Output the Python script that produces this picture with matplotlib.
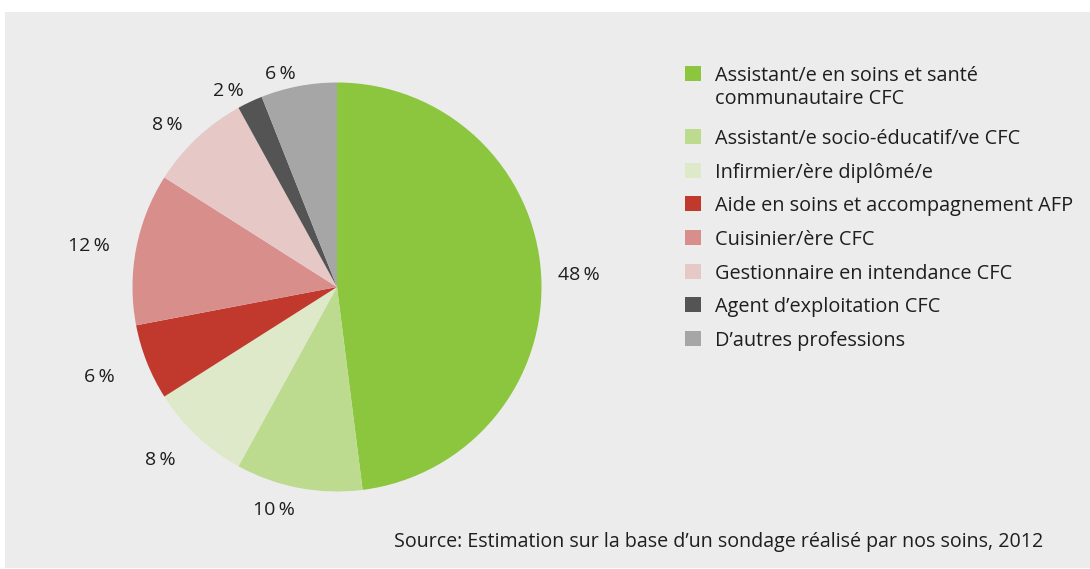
import matplotlib
matplotlib.use("Agg")
import matplotlib.pyplot as plt
import numpy as np
from matplotlib.patches import Rectangle

categories = [
    "Assistant/e en soins et santé\ncommunautaire CFC",
    "Assistant/e socio-éducatif/ve CFC",
    "Infirmier/ère diplômé/e",
    "Aide en soins et accompagnement AFP",
    "Cuisinier/ère CFC",
    "Gestionnaire en intendance CFC",
    "Agent d\u2019exploitation CFC",
    "D\u2019autres professions",
]
values = [48, 10, 8, 6, 12, 8, 2, 6]
colors = ["#8cc63e", "#bddb8f", "#dde9c9", "#c1392d",
          "#d88f8c", "#e6c9c7", "#545454", "#a6a6a6"]
source = "Source: Estimation sur la base d\u2019un sondage réalisé par nos soins, 2012"

# layout: radial distance of each percentage label (in pie radii)
label_radius = [1.085, 1.10, 1.15, 1.17, 1.13, 1.10, 1.07, 1.07]

W, H = 1090, 569
fig = plt.figure(figsize=(W / 100, H / 100), dpi=100)
fig.patch.set_facecolor("white")
FONT = ["Open Sans", "DejaVu Sans"]
TXT = "#1e1e1e"

# background panel
fig.patches.append(Rectangle((5 / W, 1 / H), (W - 5) / W, 556 / H,
                             transform=fig.transFigure, facecolor="#ececec",
                             edgecolor="none", zorder=-5))

# pie axes
cx, cy, r = 337, 287, 204.5
ax = fig.add_axes([(cx - r) / W, (H - cy - r) / H, 2 * r / W, 2 * r / H])
ax.set_zorder(1)
ax.set_facecolor("none")
wedges, _ = ax.pie(values, colors=colors, startangle=90, counterclock=False,
                   wedgeprops=dict(linewidth=0))
for w, v, lr in zip(wedges, values, label_radius):
    mid = np.deg2rad((w.theta1 + w.theta2) / 2)
    x, y = lr * np.cos(mid), lr * np.sin(mid)
    ax.text(x, y, f"{v}\u2009%", ha="left" if x > 0 else "right",
            va="center_baseline", fontsize=14, color=TXT, family=FONT)
ax.set_xlim(-1, 1)
ax.set_ylim(-1, 1)
ax.set_aspect("equal")
ax.axis("off")

# legend (manual)
sq_x, sq_w, sq_h = 685, 16, 15
y_top0 = 66
step = 33.7
extra_line = 29.3
y = y_top0
for cat, col in zip(categories, colors):
    fig.patches.append(Rectangle((sq_x / W, (H - y - sq_h) / H), sq_w / W, sq_h / H,
                                 transform=fig.transFigure, facecolor=col,
                                 edgecolor="none", zorder=2))
    fig.text(715 / W, (H - y) / H, cat, ha="left", va="top",
             fontsize=14.3, color=TXT, family=FONT, linespacing=1.2)
    y += step + extra_line * cat.count("\n")

fig.text(1043 / W, (H - 542) / H, source, ha="right", va="center",
         fontsize=14.1, color=TXT, family=FONT)

fig.savefig("out.png", dpi=100, facecolor="white")
